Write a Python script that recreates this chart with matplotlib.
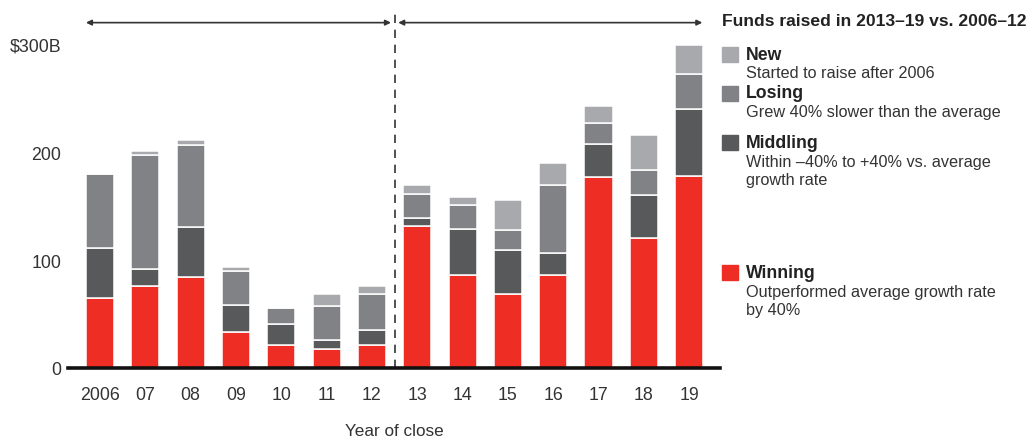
import matplotlib
matplotlib.use("Agg")
import matplotlib.pyplot as plt
import numpy as np

plt.rcParams["font.family"] = ["Liberation Sans", "DejaVu Sans"]

years = ["2006", "07", "08", "09", "10", "11", "12",
         "13", "14", "15", "16", "17", "18", "19"]
# Funds raised by fund category, $B
winning = [65, 76, 84, 33, 21, 18, 21, 132, 86, 69, 86, 177, 120, 178]
middling = [46, 16, 47, 25, 20, 8, 14, 7, 43, 40, 21, 31, 40, 62]
losing = [69, 105, 76, 32, 15, 31, 34, 22, 22, 19, 63, 19, 23, 32]
new = [0, 4, 4, 4, 0, 12, 7, 9, 7, 28, 20, 16, 33, 27]

series = [
    ("Winning", winning, "#EE2E24"),
    ("Middling", middling, "#58595B"),
    ("Losing", losing, "#808285"),
    ("New", new, "#A7A9AC"),
]

legend_items = [
    ("New", ["Started to raise after 2006"], "#A7A9AC", 55),
    ("Losing", ["Grew 40% slower than the average"], "#808285", 94),
    ("Middling", ["Within \u201340% to +40% vs. average", "growth rate"], "#58595B", 143),
    ("Winning", ["Outperformed average growth rate", "by 40%"], "#EE2E24", 273),
]

W, H = 1035, 439
TEXT = "#333333"
fig = plt.figure(figsize=(W / 100, H / 100), dpi=100)
ax = fig.add_axes([68 / W, (H - 369) / H, (720 - 68) / W, (369 - 15) / H])

x = np.arange(len(years))
bottom = np.zeros(len(years))
for name, vals, color in series:
    vals = np.array(vals, dtype=float)
    ax.bar(x, vals, bottom=bottom, width=0.62, color=color,
           edgecolor="white", linewidth=1.1, zorder=2)
    bottom += vals

ax.set_xlim(-0.706, 13.68)
ax.set_ylim(0, 328)

for s in ["top", "right", "left"]:
    ax.spines[s].set_visible(False)
ax.spines["bottom"].set_linewidth(2.6)
ax.spines["bottom"].set_color("#111111")
ax.spines["bottom"].set_zorder(3)

ax.set_yticks([0, 100, 200, 300])
ax.set_yticklabels(["0", "100", "200", "$300B"])
ax.set_xticks(x)
ax.set_xticklabels(years)
ax.tick_params(axis="both", length=0, labelsize=12.8, colors=TEXT)
ax.tick_params(axis="x", pad=13)
ax.tick_params(axis="y", pad=5)
ax.set_xlabel("Year of close", fontsize=12.3, color=TEXT, labelpad=14.5)

# Period divider and span arrows
ax.plot([6.5, 6.5], [0, 328], linestyle=(0, (5, 4)), color="#333333",
        linewidth=1.2, clip_on=False, zorder=1)
arrow_y = 320
arrow_kw = dict(arrowstyle="<|-|>", color="#333333", lw=1.2,
                mutation_scale=8, shrinkA=0, shrinkB=0)
ax.annotate("", xy=(-0.31, arrow_y), xytext=(6.42, arrow_y),
            arrowprops=arrow_kw, annotation_clip=False)
ax.annotate("", xy=(6.58, arrow_y), xytext=(13.29, arrow_y),
            arrowprops=arrow_kw, annotation_clip=False)

# Legend block
fig.text(722 / W, 1 - 21 / H, "Funds raised in 2013\u201319 vs. 2006\u201312",
         fontsize=12.6, fontweight="bold", color="#222222", va="center", ha="left")
for name, lines, color, ypx in legend_items:
    fig.patches.append(plt.Rectangle((722 / W, 1 - (ypx + 8) / H), 16 / W, 15 / H,
                                     transform=fig.transFigure, color=color))
    fig.text(746 / W, 1 - ypx / H, name, fontsize=12.7, fontweight="bold",
             color="#222222", va="center", ha="left")
    for i, line in enumerate(lines):
        fig.text(746 / W, 1 - (ypx + 19 + 18.5 * i) / H, line, fontsize=11.7,
                 color=TEXT, va="center", ha="left")

fig.savefig("out.png", dpi=100)
